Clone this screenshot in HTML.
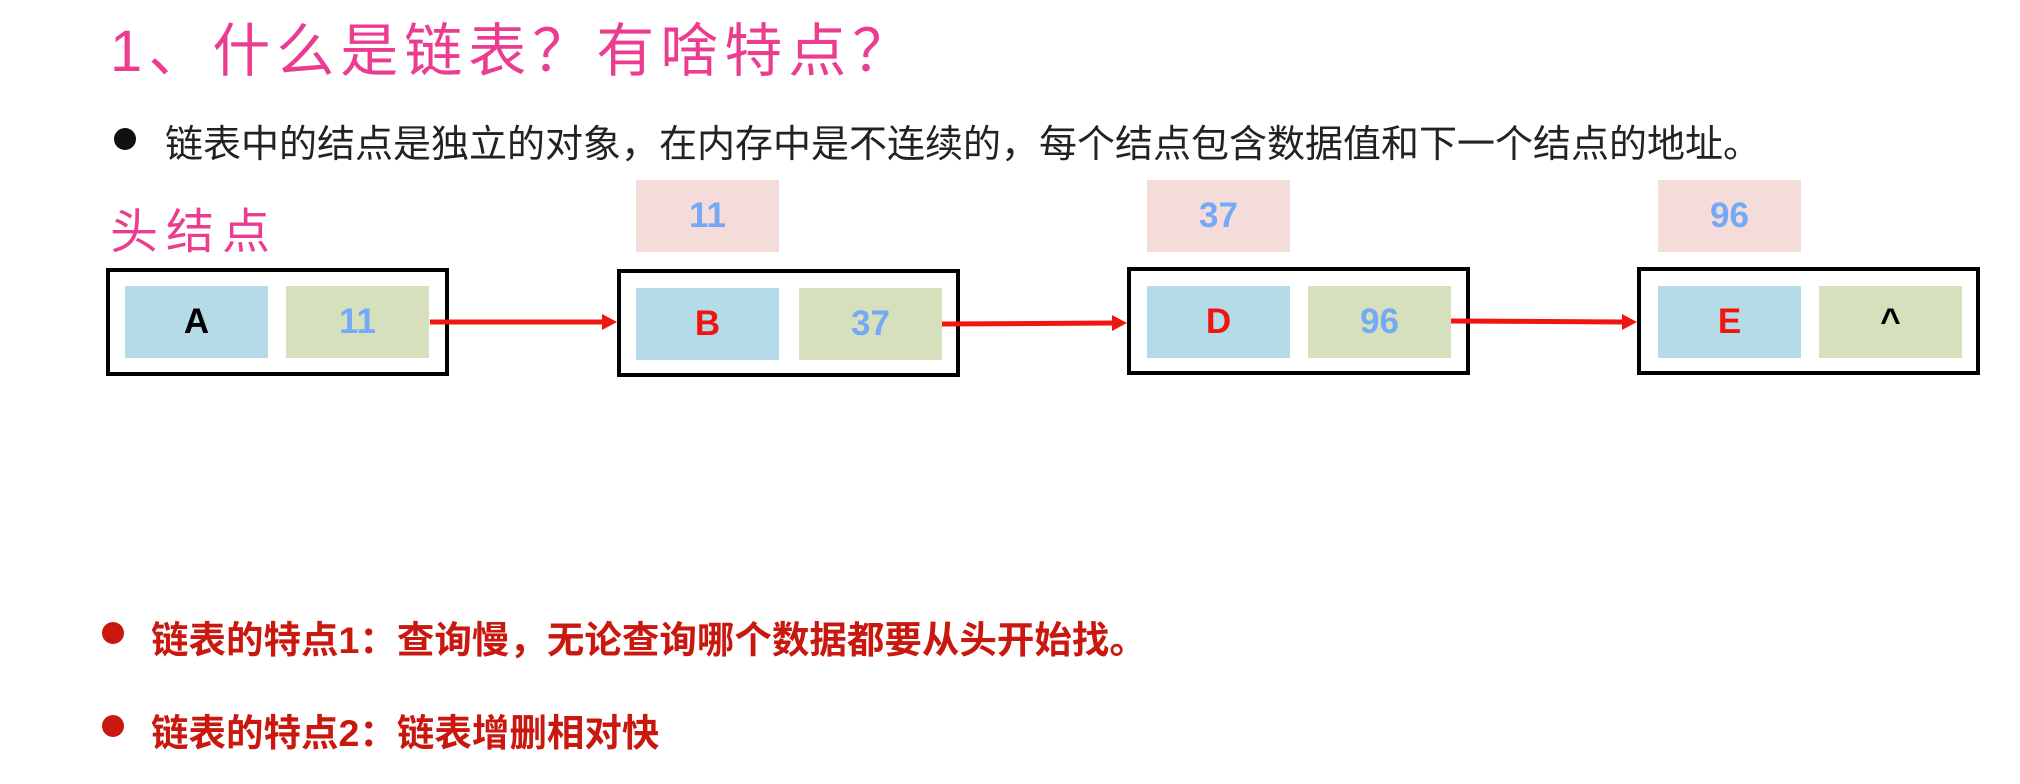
<!DOCTYPE html>
<html><head><meta charset="utf-8"><style>
body{margin:0;width:2020px;height:784px;background:#fff;position:relative;overflow:hidden;font-family:"Liberation Sans","Noto Sans CJK SC",sans-serif}
.a{position:absolute}
.t{left:110px;top:4px;font-size:58px;color:#ec3c8f;letter-spacing:6px;white-space:nowrap}
.h{left:110px;top:192px;font-size:48px;color:#ec3c8f;letter-spacing:8px}
.l1{left:165px;top:113px;font-size:38px;color:#222;white-space:nowrap}
.dot{width:22px;height:22px;border-radius:50%}
.box{border:4px solid #000;box-sizing:border-box;width:343px;height:108px}
.c{width:143px;height:72px;display:flex;align-items:center;justify-content:center;font-weight:bold;font-size:35px}
.bl{background:#b5dbe8}.gr{background:#d6e0bd}.pk{background:#f4dcda;color:#74a9f7}
.r{color:#f0150f}.nb{color:#74a9f7}
.bt{font-size:37.5px;font-weight:bold;color:#c8180f;white-space:nowrap}
</style></head><body>
<div class="a t">1、什么是链表？有啥特点？</div>
<div class="a dot" style="left:114px;top:128px;background:#111"></div>
<div class="a l1">链表中的结点是独立的对象，在内存中是不连续的，每个结点包含数据值和下一个结点的地址。</div>
<div class="a h">头结点</div>

<div class="a box" style="left:106px;top:268px"></div>
<div class="a c bl" style="left:125px;top:286px">A</div>
<div class="a c gr nb" style="left:286px;top:286px">11</div>

<div class="a c pk" style="left:636px;top:180px">11</div>
<div class="a box" style="left:617px;top:269px"></div>
<div class="a c bl r" style="left:636px;top:288px">B</div>
<div class="a c gr nb" style="left:799px;top:288px">37</div>

<div class="a c pk" style="left:1147px;top:180px">37</div>
<div class="a box" style="left:1127px;top:267px"></div>
<div class="a c bl r" style="left:1147px;top:286px">D</div>
<div class="a c gr nb" style="left:1308px;top:286px">96</div>

<div class="a c pk" style="left:1658px;top:180px">96</div>
<div class="a box" style="left:1637px;top:267px"></div>
<div class="a c bl r" style="left:1658px;top:286px">E</div>
<div class="a c gr" style="left:1819px;top:286px;color:#000">^</div>

<svg class="a" style="left:0;top:0" width="2020" height="784">
<g stroke="#f0150f" stroke-width="5" fill="#f0150f">
<line x1="430" y1="322" x2="604" y2="322"/><polygon points="617,322 602,314 602,330" stroke="none"/>
<line x1="942" y1="324" x2="1114" y2="323"/><polygon points="1127,323 1112,315 1112,331" stroke="none"/>
<line x1="1451" y1="321" x2="1624" y2="322"/><polygon points="1637,322 1622,314 1622,330" stroke="none"/>
</g></svg>

<div class="a dot" style="left:102px;top:622px;background:#c8180f"></div>
<div class="a bt" style="left:151px;top:609px">链表的特点1：查询慢，无论查询哪个数据都要从头开始找。</div>
<div class="a dot" style="left:102px;top:715px;background:#c8180f"></div>
<div class="a bt" style="left:151px;top:702px">链表的特点2：链表增删相对快</div>
</body></html>
